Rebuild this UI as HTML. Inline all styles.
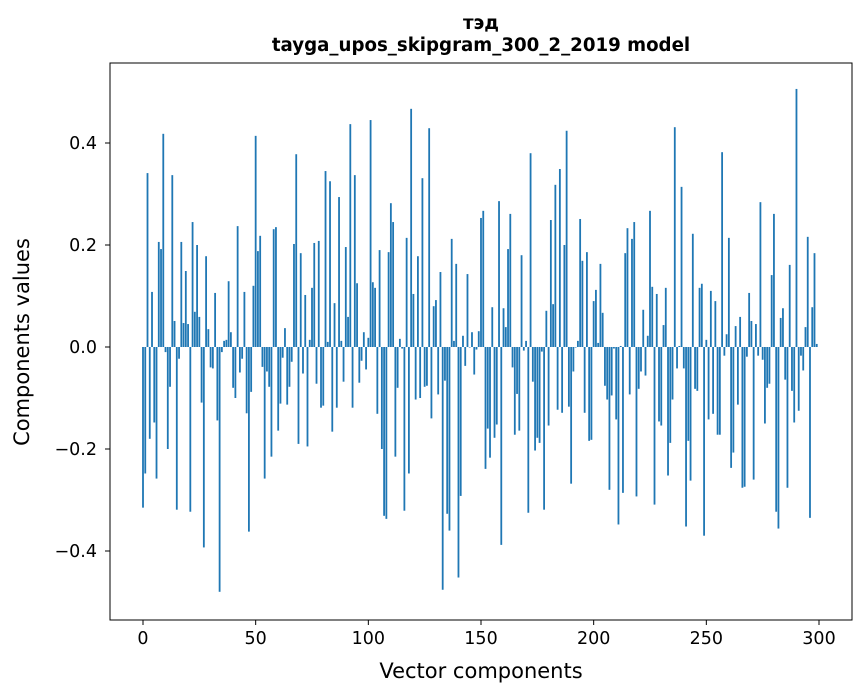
<!DOCTYPE html>
<html><head><meta charset="utf-8"><style>
body{margin:0;background:#fff;}
svg{display:block;font-family:"DejaVu Sans","Liberation Sans",sans-serif;}
</style></head><body>
<svg id="chart" width="867" height="696" viewBox="0 0 867 696" xmlns="http://www.w3.org/2000/svg">
<text x="481" y="29" text-anchor="middle" font-size="18.2" font-weight="bold">тэд</text>
<text x="481" y="51" text-anchor="middle" font-size="18.2" font-weight="bold">tayga_upos_skipgram_300_2_2019 model</text>
<g id="bars"></g>
<g id="axes"></g>
<rect x="110" y="63" width="742" height="557" fill="none" stroke="#000" stroke-width="1"/>
<text x="481" y="678" text-anchor="middle" font-size="21">Vector components</text>
<text transform="translate(29,342) rotate(-90)" text-anchor="middle" font-size="21">Components values</text>
</svg>
<script>
const values = [-0.315,-0.248,0.341,-0.18,0.108,-0.148,-0.258,0.206,0.192,0.418,
-0.01,-0.2,-0.078,0.337,0.051,-0.319,-0.023,0.206,0.047,0.149,
0.045,-0.323,0.245,0.069,0.2,0.059,-0.109,-0.393,0.178,0.035,
-0.04,-0.042,0.106,-0.144,-0.48,-0.01,0.012,0.014,0.129,0.029,
-0.08,-0.1,0.237,-0.05,-0.023,0.108,-0.13,-0.362,-0.088,0.12,
0.414,0.188,0.218,-0.039,-0.258,-0.048,-0.078,-0.215,0.231,0.235,
-0.164,-0.111,-0.021,0.037,-0.113,-0.078,-0.029,0.202,0.378,-0.19,
0.184,-0.052,0.102,-0.195,0.014,0.116,0.204,-0.072,0.208,-0.119,
-0.115,0.345,0.01,0.325,-0.166,0.086,-0.119,0.294,0.012,-0.068,
0.196,0.059,0.437,-0.119,0.337,0.125,-0.07,-0.027,0.029,-0.044,
0.018,0.445,0.127,0.116,-0.131,0.19,-0.2,-0.331,-0.337,0.186,
0.282,0.245,-0.215,-0.08,0.016,-0.003,-0.321,0.214,-0.248,0.467,
0.104,-0.103,0.178,-0.1,0.331,-0.078,-0.076,0.429,-0.14,0.08,
0.092,-0.093,0.147,-0.476,-0.066,-0.327,-0.36,0.212,0.012,0.163,
-0.452,-0.292,0.022,-0.037,0.143,-0.001,0.029,-0.054,-0.005,0.031,
0.253,0.267,-0.239,-0.16,-0.217,0.078,-0.178,-0.152,0.286,-0.388,
0.076,0.039,0.192,0.261,-0.04,-0.172,-0.092,-0.164,0.18,-0.007,
0.012,-0.325,0.38,-0.068,-0.203,-0.178,-0.188,-0.009,-0.319,0.071,
-0.154,0.249,0.084,0.318,-0.123,0.349,-0.129,0.2,0.424,-0.117,
-0.268,-0.048,-0.001,0.012,0.251,0.169,-0.129,0.186,-0.184,-0.182,
0.09,0.112,0.008,0.163,0.067,-0.076,-0.103,-0.28,-0.095,-0.003,
-0.142,-0.348,0.002,-0.286,0.184,0.233,-0.093,0.212,0.245,-0.293,
-0.082,-0.048,0.073,-0.056,0.022,0.267,0.118,-0.309,0.104,-0.146,
-0.154,0.043,0.116,-0.252,-0.188,-0.103,0.431,-0.042,0.002,0.314,
-0.042,-0.352,-0.184,-0.262,0.222,-0.082,-0.086,0.116,0.124,-0.37,
0.014,-0.142,0.11,-0.131,0.09,-0.172,-0.172,0.382,-0.017,0.025,
0.214,-0.237,-0.207,0.041,-0.113,0.059,-0.276,-0.274,-0.019,0.106,
0.051,-0.26,0.045,-0.017,0.284,-0.025,-0.15,-0.08,-0.072,0.141,
0.261,-0.323,-0.356,0.057,0.076,-0.064,-0.276,0.161,-0.086,-0.148,
0.506,-0.125,-0.017,-0.046,0.039,0.216,-0.335,0.078,0.184,0.006];
const xTicks = [0,50,100,150,200,250,300];
const yTicks = [-0.4,-0.2,0.0,0.2,0.4];
const yTickLabels = ["\u22120.4","\u22120.2","0.0","0.2","0.4"];

const NS="http://www.w3.org/2000/svg";
function xScale(v){return 143 + v*(676/300);}
function yScale(v){return 347 - v*510;}
const bars=document.getElementById('bars');
values.forEach((v,i)=>{
  const r=document.createElementNS(NS,'rect');
  const x0=xScale(i-0.4), x1=xScale(i+0.4);
  const y0=yScale(Math.max(v,0)), y1=yScale(Math.min(v,0));
  r.setAttribute('x',x0);r.setAttribute('width',x1-x0);
  r.setAttribute('y',y0);r.setAttribute('height',Math.max(y1-y0,0.01));
  r.setAttribute('fill','#1f77b4');
  
  
  bars.appendChild(r);
});
const axes=document.getElementById('axes');
xTicks.forEach(t=>{
  const x=xScale(t);
  const l=document.createElementNS(NS,'line');
  l.setAttribute('x1',x);l.setAttribute('x2',x);l.setAttribute('y1',620);l.setAttribute('y2',625);l.setAttribute('stroke','#000');
  
  
  axes.appendChild(l);
  const tx=document.createElementNS(NS,'text');
  tx.setAttribute('x',x);tx.setAttribute('y',644);tx.setAttribute('text-anchor','middle');tx.setAttribute('font-size','17.5');
  tx.textContent=String(t);
  
  
  axes.appendChild(tx);
});
yTicks.forEach((t,k)=>{
  const y=yScale(t);
  const l=document.createElementNS(NS,'line');
  l.setAttribute('x1',105);l.setAttribute('x2',110);l.setAttribute('y1',y);l.setAttribute('y2',y);l.setAttribute('stroke','#000');
  
  
  axes.appendChild(l);
  const tx=document.createElementNS(NS,'text');
  tx.setAttribute('x',97);tx.setAttribute('y',y+6);tx.setAttribute('text-anchor','end');tx.setAttribute('font-size','17.5');
  tx.textContent=yTickLabels[k];
  
  
  axes.appendChild(tx);
});
</script>
</body></html>
